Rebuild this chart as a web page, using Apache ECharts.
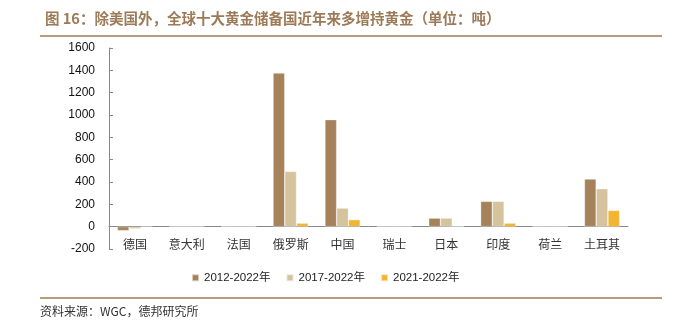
<!DOCTYPE html>
<html><head><meta charset="utf-8">
<script src="https://cdn.jsdelivr.net/npm/echarts@6/dist/echarts.min.js"></script>
<style>
html,body{margin:0;padding:0;background:#fff;}
#c{width:687px;height:334px;}
</style></head>
<body><div id="c"></div>
<script>
const categories = ['德国','意大利','法国','俄罗斯','中国','瑞士','日本','印度','荷兰','土耳其'];
const s2012 = [-36, 0, 0, 1376, 959, 0, 77, 227, 0, 427];
const s2017 = [-18, 0, 0, 495, 167, 0, 77, 227, 0, 340];
const s2021 = [-3, 0, 0, 32, 63, 0, 0, 32, 0, 146];
const seriesNames = ['2012-2022年','2017-2022年','2021-2022年'];
const colors = ['#A6825B','#D4C39C','#F2B531'];
const yMin = -200, yMax = 1600, yStep = 200;

const gridTop = 48, gridBottom = 85, H = 334;
const plotH = H - gridTop - gridBottom;
const zeroOffset = -plotH * (0 - yMin) / (yMax - yMin);

const chart = echarts.init(document.getElementById('c'));
const mk = (name, data, color) => ({
  name, type:'bar', data, barGap:'0%', barCategoryGap:'32%',
  itemStyle:{color, borderColor:'rgba(255,255,255,0.6)', borderWidth:0.6}
});
chart.setOption({
  animation:false,
  color: colors,
  title:{text:'图 16：除美国外，全球十大黄金储备国近年来多增持黄金（单位：吨）', left:40, top:6,
    textStyle:{color:'#9C7A57', fontSize:14.5, fontWeight:'bold', fontFamily:'Noto Sans CJK SC'}},
  graphic:[
    {type:'rect', shape:{x:40,y:35,width:622,height:2}, style:{fill:'#B99A7B'}},
    {type:'rect', shape:{x:40,y:297,width:622,height:2}, style:{fill:'#B99A7B'}},
    {type:'text', left:40, top:305, style:{text:'资料来源：WGC，德邦研究所', fill:'#333', fontSize:12, fontFamily:'Noto Sans CJK SC'}}
  ],
  legend:{data:seriesNames, top:267, left:186, itemWidth:7, itemHeight:7, itemGap:15,
    icon:'rect', textStyle:{fontSize:11.5, color:'#222', fontFamily:'Liberation Sans, Noto Sans CJK SC'}},
  grid:{left:109, right:59, top:gridTop, bottom:gridBottom},
  xAxis:{type:'category', data:categories, offset: zeroOffset,
    axisLine:{onZero:false, lineStyle:{color:'#888'}},
    axisTick:{inside:true, length:4, lineStyle:{color:'#888'}},
    axisLabel:{color:'#333', fontSize:12, margin:12, fontFamily:'Noto Sans CJK SC'}},
  yAxis:{type:'value', min:yMin, max:yMax, interval:yStep,
    axisLine:{show:true, lineStyle:{color:'#888'}},
    axisTick:{show:true, inside:true, length:4, lineStyle:{color:'#888'}},
    splitLine:{show:false},
    axisLabel:{color:'#111', fontSize:12, margin:14, fontFamily:'Liberation Sans', formatter:v=>String(v)}},
  series:[mk(seriesNames[0], s2012, colors[0]), mk(seriesNames[1], s2017, colors[1]), mk(seriesNames[2], s2021, colors[2])]
});
</script></body></html>
